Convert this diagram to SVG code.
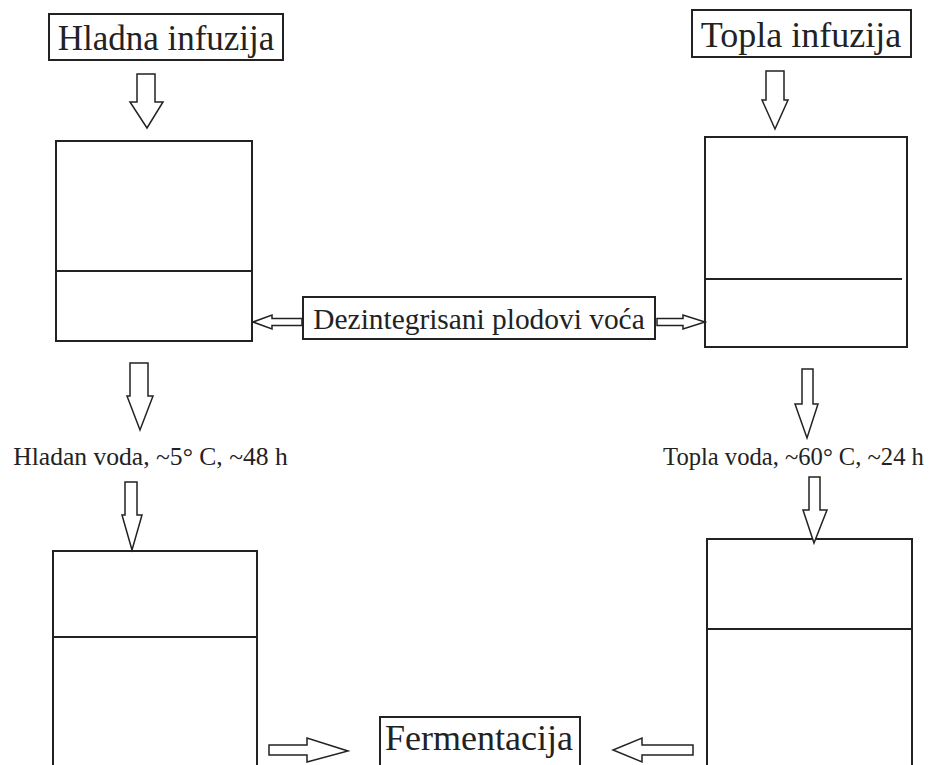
<svg xmlns="http://www.w3.org/2000/svg" width="935" height="765" viewBox="0 0 935 765">
<style>
.box{fill:#fff;stroke:#222;stroke-width:2}
.div{stroke:#222;stroke-width:2}
.arr{fill:#fff;stroke:#222;stroke-width:1.5;stroke-linejoin:miter}
.t{font-family:"Liberation Serif","Times New Roman",serif;fill:#222;text-anchor:middle}
</style>
<rect width="935" height="765" fill="#fff"/>
<g id="hladna-infuzija">
<rect class="box" x="49" y="14" width="234" height="46"/>
<text class="t" x="166" y="50" font-size="35">Hladna infuzija</text>
</g>
<g id="topla-infuzija">
<rect class="box" x="692" y="10" width="219" height="47"/>
<text class="t" x="801" y="47" font-size="36">Topla infuzija</text>
</g>
<g id="vessel-cold-1">
<rect class="box" x="56" y="141" width="196" height="200"/>
<line class="div" x1="56" y1="271" x2="252" y2="271"/>
</g>
<g id="vessel-hot-1">
<rect class="box" x="705" y="137" width="202" height="210"/>
<line class="div" x1="705" y1="279" x2="902" y2="279"/>
</g>
<g id="dezintegrisani">
<rect class="box" x="303" y="297" width="352" height="42"/>
<text class="t" x="479" y="329" font-size="29.4">Dezintegrisani plodovi voća</text>
</g>
<g id="label-cold">
<text class="t" x="150.5" y="465" font-size="25.6">Hladan voda, ~5° C, ~48 h</text>
</g>
<g id="label-hot">
<text class="t" x="793.5" y="465" font-size="24.6">Topla voda, ~60° C, ~24 h</text>
</g>
<g id="vessel-cold-2">
<rect class="box" x="53" y="551" width="204" height="230"/>
<line class="div" x1="53" y1="637" x2="257" y2="637"/>
</g>
<g id="vessel-hot-2">
<rect class="box" x="707" y="539" width="205" height="240"/>
<line class="div" x1="707" y1="629" x2="912" y2="629"/>
</g>
<g id="fermentacija">
<rect class="box" x="380" y="717" width="200" height="70"/>
<text class="t" x="479" y="750" font-size="36">Fermentacija</text>
</g>
<g id="connectors">
<polygon class="arr" points="137,74 155,74 155,102 163,102 147,128 130,102 137,102"/>
<polygon class="arr" points="766,71 784,71 784,100 788,100 775,129 762,100 766,100"/>
<polygon class="arr" points="130,363 148,363 148,396 153,396 140,430 127,396 130,396"/>
<polygon class="arr" points="125,482 137,482 137,515 142,515 132,550 122,515 125,515"/>
<polygon class="arr" points="802,369 813,369 813,404 818,404 807,438 795,404 802,404"/>
<polygon class="arr" points="809,477 820,477 820,510 827,510 814,543 803,510 809,510"/>
<polygon class="arr" points="302,318.5 272,318.5 272,315 253,322 272,329 272,325.5 302,325.5"/>
<polygon class="arr" points="657,318.5 683,318.5 683,315 705,322 683,329 683,325.5 657,325.5"/>
<polygon class="arr" points="269,745 307,745 307,738 348,751 307,762 307,755 269,755"/>
<polygon class="arr" points="693,745 642,745 642,738 613,750 642,762 642,755 693,755"/>
</g>
</svg>
